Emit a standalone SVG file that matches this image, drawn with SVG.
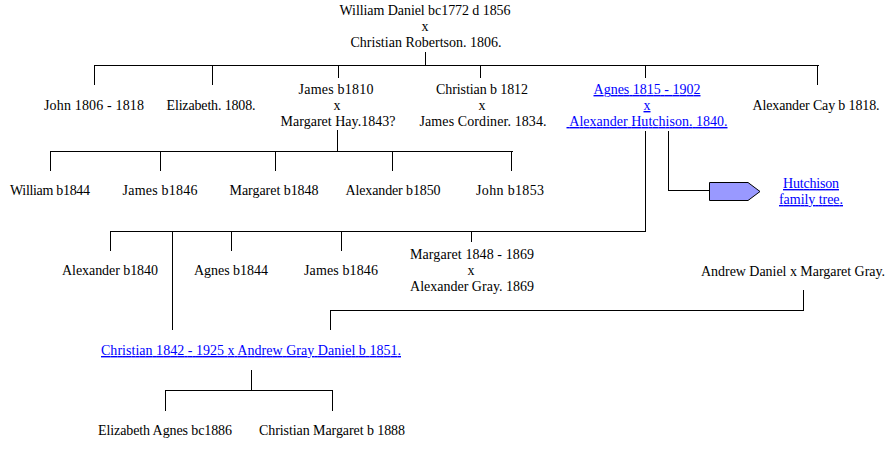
<svg xmlns="http://www.w3.org/2000/svg" width="893" height="451" viewBox="0 0 893 451">
<style>
text{font-family:"Liberation Serif","Times New Roman",serif;font-size:14px;fill:#000;text-anchor:middle}
.lk{fill:#0000ff;text-decoration:underline}
.c line,.c polyline{stroke:#000;stroke-width:1;fill:none;shape-rendering:crispEdges}
</style>
<rect width="893" height="451" fill="#fff"/>
<g class="c" id="connectors">
<line x1="425.5" y1="52" x2="425.5" y2="65.5"/>
<line x1="94.5" y1="65.5" x2="818.5" y2="65.5"/>
<line x1="94.5" y1="65" x2="94.5" y2="85"/>
<line x1="212.5" y1="65" x2="212.5" y2="85"/>
<line x1="338.5" y1="65" x2="338.5" y2="78"/>
<line x1="480.5" y1="65" x2="480.5" y2="78"/>
<line x1="645.5" y1="65" x2="645.5" y2="78"/>
<line x1="817.5" y1="65" x2="817.5" y2="85"/>
<line x1="337.5" y1="130" x2="337.5" y2="151.5"/>
<line x1="50.5" y1="151.5" x2="512.5" y2="151.5"/>
<line x1="50.5" y1="151" x2="50.5" y2="171"/>
<line x1="160.5" y1="151" x2="160.5" y2="171"/>
<line x1="275.5" y1="151" x2="275.5" y2="171"/>
<line x1="392.5" y1="151" x2="392.5" y2="171"/>
<line x1="511.5" y1="151" x2="511.5" y2="171"/>
<line x1="645.5" y1="131" x2="645.5" y2="231.5"/>
<polyline points="668.5,131 668.5,190.5 709,190.5"/>
<line x1="110.5" y1="231.5" x2="645.5" y2="231.5"/>
<line x1="110.5" y1="231" x2="110.5" y2="251"/>
<line x1="172.5" y1="231" x2="172.5" y2="330"/>
<line x1="231.5" y1="231" x2="231.5" y2="251"/>
<line x1="341.5" y1="231" x2="341.5" y2="251"/>
<line x1="471.5" y1="231" x2="471.5" y2="242"/>
<polyline points="330.5,330 330.5,310.5 803.5,310.5 803.5,290"/>
<line x1="251.5" y1="370" x2="251.5" y2="390.5"/>
<line x1="165.5" y1="390.5" x2="332.5" y2="390.5"/>
<line x1="165.5" y1="390" x2="165.5" y2="411"/>
<line x1="332.5" y1="390" x2="332.5" y2="411"/>
</g>
<g id="william-daniel"><text x="425" y="15" textLength="171" lengthAdjust="spacing">William Daniel bc1772 d 1856</text><text x="425" y="31">x</text><text x="426" y="47" textLength="151" lengthAdjust="spacing">Christian Robertson. 1806.</text></g>
<g id="john"><text x="94" y="110" textLength="100" lengthAdjust="spacing">John 1806 - 1818</text></g>
<g id="elizabeth"><text x="211" y="110" textLength="89" lengthAdjust="spacing">Elizabeth. 1808.</text></g>
<g id="james"><text x="336" y="94" textLength="75" lengthAdjust="spacing">James b1810</text><text x="337" y="110">x</text><text x="338" y="126" textLength="115" lengthAdjust="spacing">Margaret Hay.1843?</text></g>
<g id="christian"><text x="482" y="94" textLength="92" lengthAdjust="spacing">Christian b 1812</text><text x="482" y="110">x</text><text x="483" y="126" textLength="127" lengthAdjust="spacing">James Cordiner. 1834.</text></g>
<g id="agnes"><text class="lk" x="647" y="94" textLength="107" lengthAdjust="spacing">Agnes 1815 - 1902</text><text class="lk" x="647" y="110">x</text><text class="lk" x="647" y="126" textLength="161" lengthAdjust="spacing" style="white-space:pre"> Alexander Hutchison. 1840.</text></g>
<g id="alexander-cay"><text x="816" y="110" textLength="127" lengthAdjust="spacing">Alexander Cay b 1818.</text></g>
<g id="william-b1844"><text x="50" y="195" textLength="80" lengthAdjust="spacing">William b1844</text></g>
<g id="james-b1846a"><text x="160" y="195" textLength="75" lengthAdjust="spacing">James b1846</text></g>
<g id="margaret-b1848"><text x="274" y="195" textLength="89" lengthAdjust="spacing">Margaret b1848</text></g>
<g id="alexander-b1850"><text x="393" y="195" textLength="95" lengthAdjust="spacing">Alexander b1850</text></g>
<g id="john-b1853"><text x="510" y="195" textLength="68" lengthAdjust="spacing">John b1853</text></g>
<g id="hutchison-arrow"><polygon points="709.5,182.5 748,182.5 760,191.5 748,200.5 709.5,200.5" fill="#9999ff" stroke="#000" stroke-width="1"/></g>
<g id="hutchison-link"><text class="lk" x="811" y="188" textLength="56" lengthAdjust="spacing">Hutchison</text><text class="lk" x="811" y="204" textLength="64" lengthAdjust="spacing">family tree.</text></g>
<g id="alexander-b1840"><text x="110" y="275" textLength="96" lengthAdjust="spacing">Alexander b1840</text></g>
<g id="agnes-b1844"><text x="231" y="275" textLength="74" lengthAdjust="spacing">Agnes b1844</text></g>
<g id="james-b1846b"><text x="341" y="275" textLength="74" lengthAdjust="spacing">James b1846</text></g>
<g id="margaret-1848"><text x="472" y="259" textLength="124" lengthAdjust="spacing">Margaret 1848 - 1869</text><text x="471" y="275">x</text><text x="472" y="291" textLength="124" lengthAdjust="spacing">Alexander Gray. 1869</text></g>
<g id="andrew-daniel"><text x="793" y="276" textLength="184" lengthAdjust="spacing">Andrew Daniel x Margaret Gray.</text></g>
<g id="christian-1842"><text class="lk" x="251" y="355" textLength="300" lengthAdjust="spacing">Christian 1842 - 1925 x Andrew Gray Daniel b 1851.</text></g>
<g id="elizabeth-agnes"><text x="165" y="435" textLength="134" lengthAdjust="spacing">Elizabeth Agnes bc1886</text></g>
<g id="christian-margaret"><text x="332" y="435" textLength="146" lengthAdjust="spacing">Christian Margaret b 1888</text></g>
</svg>
